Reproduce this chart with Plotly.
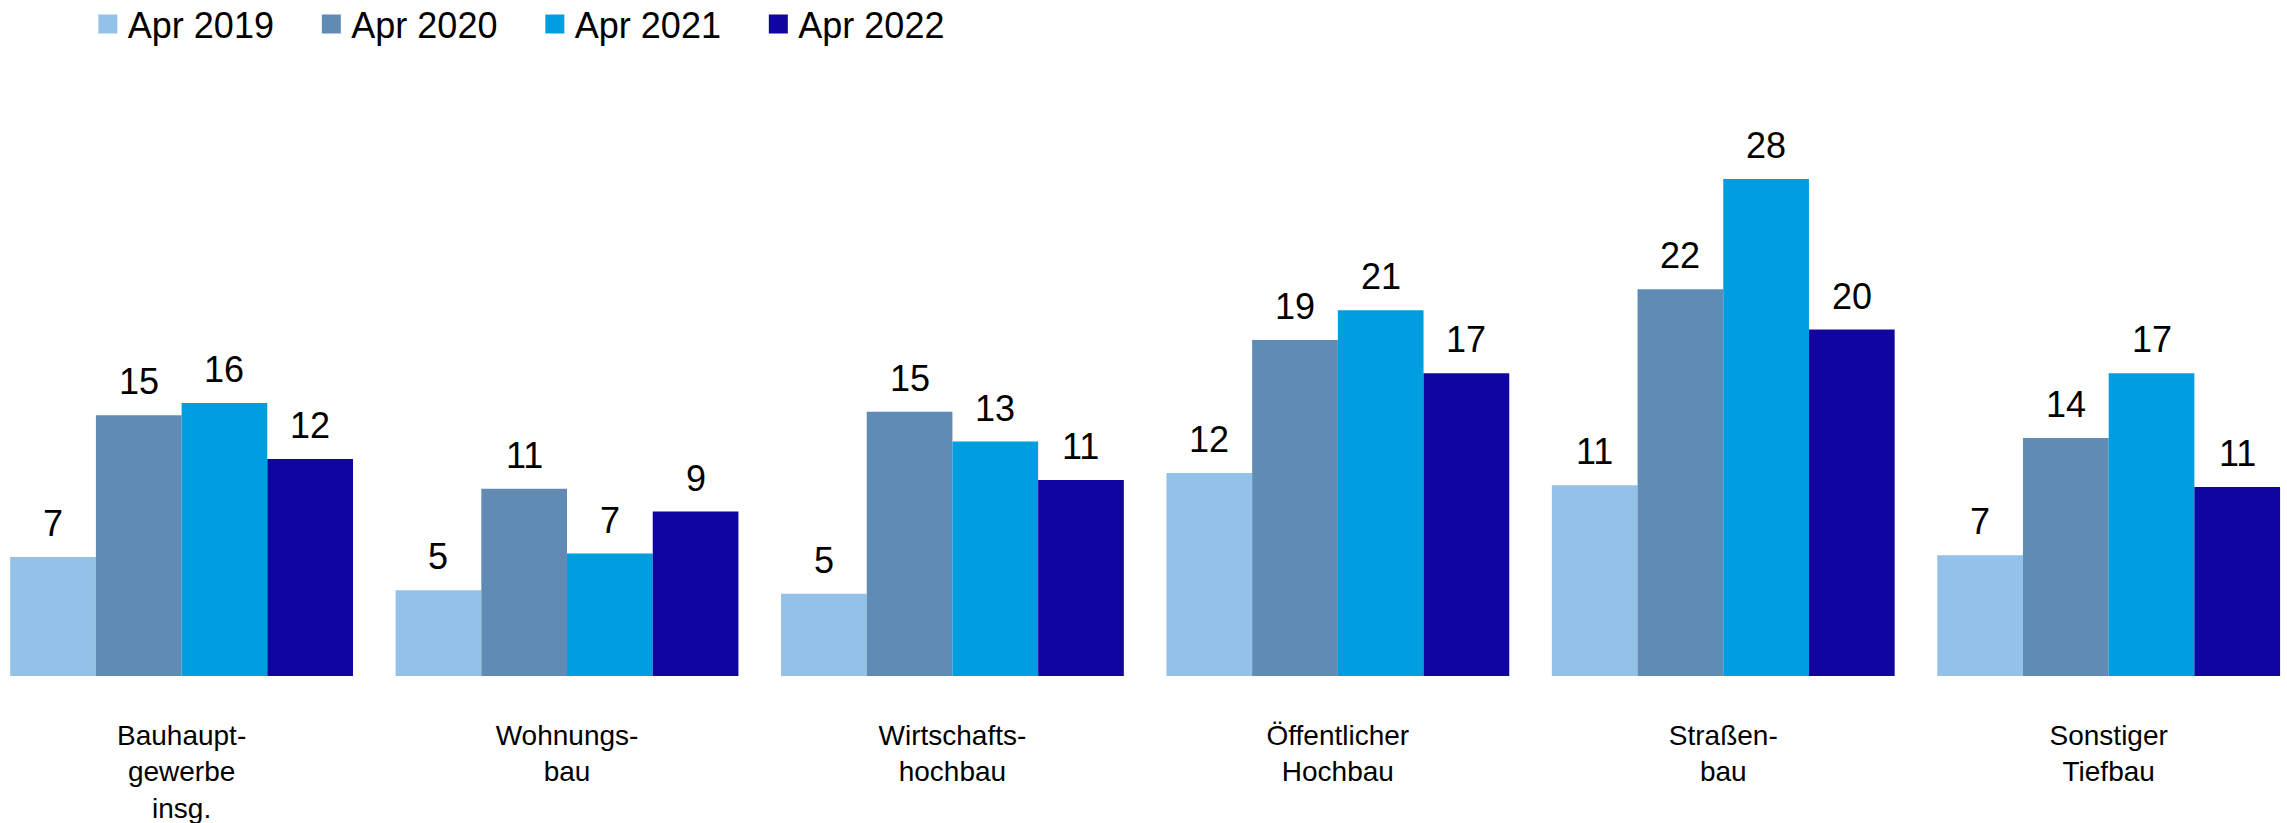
import plotly.graph_objects as go

categories = ["Bauhauptgewerbe insg.", "Wohnungsbau", "Wirtschaftshochbau",
              "Öffentlicher Hochbau", "Straßenbau", "Sonstiger Tiefbau"]
tick_labels = ["Bauhaupt-<br>gewerbe<br>insg.", "Wohnungs-<br>bau", "Wirtschafts-<br>hochbau",
               "Öffentlicher<br>Hochbau", "Straßen-<br>bau", "Sonstiger<br>Tiefbau"]

series_names = ["Apr 2019", "Apr 2020", "Apr 2021", "Apr 2022"]
apr_2019 = [6.8, 4.9, 4.7, 11.6, 10.9, 6.9]
apr_2020 = [14.9, 10.7, 15.1, 19.2, 22.1, 13.6]
apr_2021 = [15.6, 7.0, 13.4, 20.9, 28.4, 17.3]
apr_2022 = [12.4, 9.4, 11.2, 17.3, 19.8, 10.8]
series_values = [apr_2019, apr_2020, apr_2021, apr_2022]
colors = ["#93C1E8", "#608BB4", "#009EE0", "#10069F"]

FONT = "Liberation Sans, Arial, sans-serif"
BARGAP = 0.1105

fig = go.Figure()
idx = list(range(len(categories)))
for name, vals, col in zip(series_names, series_values, colors):
    fig.add_trace(go.Bar(x=idx, y=vals, name=name, marker=dict(color=col, line=dict(width=0)),
                         showlegend=False, hoverinfo="x+y"))
    # legend proxy
    fig.add_trace(go.Scatter(x=[None], y=[None], mode="markers", name=name,
                             marker=dict(symbol="square", size=16, color=col,
                                         line=dict(color=col, width=3))))

n = len(series_values)
w = (1 - BARGAP) / n
annotations = []
for j, vals in enumerate(series_values):
    for i, v in enumerate(vals):
        annotations.append(dict(x=i + (j - (n - 1) / 2) * w, y=v, xref="x", yref="y",
                                text=f"{v:.0f}", showarrow=False, yanchor="bottom",
                                yshift=11, font=dict(size=36, color="black", family=FONT)))

fig.update_layout(
    width=2287, height=823,
    margin=dict(l=0, r=0, t=151, b=147, autoexpand=False),
    paper_bgcolor="white", plot_bgcolor="white",
    barmode="group", bargap=BARGAP, bargroupgap=0,
    font=dict(family=FONT, color="black"),
    annotations=annotations,
    legend=dict(orientation="h", x=0.0384, y=1.299, xanchor="left", yanchor="top",
                font=dict(size=36, color="black", family=FONT),
                entrywidth=178.5, entrywidthmode="pixels", itemwidth=30,
                bgcolor="rgba(0,0,0,0)"),
    xaxis=dict(range=[-0.4712, 5.4627], tickmode="array", tickvals=idx, ticktext=tick_labels,
               showgrid=False, zeroline=False, showline=False, ticks="", automargin=False,
               tickfont=dict(size=28, color="black", family=FONT), ticklabelstandoff=40),
    yaxis=dict(range=[0, 30], visible=False, showgrid=False, zeroline=False, automargin=False),
)

fig.write_html("out.html", config={"displayModeBar": False},
               post_script="document.body.style.margin='0';")
